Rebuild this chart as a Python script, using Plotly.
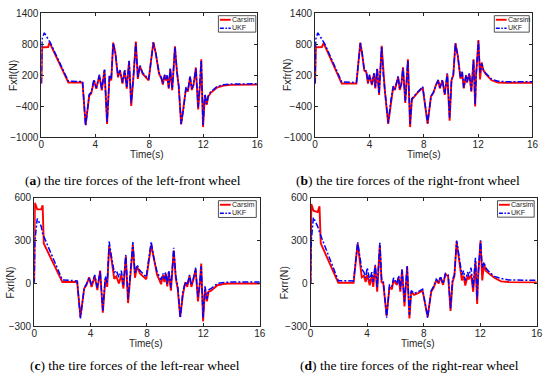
import plotly.graph_objects as go

W, H = 550, 383

# ---------------- data ----------------
T_LEFT = [0, 0.05, 0.22, 0.5, 0.6, 0.68, 2.0, 3.05, 3.28, 3.55,
          3.7, 3.9, 4.07, 4.3, 4.48, 4.68, 4.87, 5.05, 5.18, 5.32,
          5.48, 5.68, 5.83, 6.01, 6.18, 6.33, 6.5, 6.66, 6.83, 7.0,
          7.15, 7.3, 7.5, 7.95, 8.3, 8.47, 8.72, 8.9, 9.0, 9.14,
          9.24, 9.32, 9.44, 9.55, 9.7, 9.9, 10.05, 10.18, 10.36, 10.55,
          10.72, 10.86, 11.02, 11.15, 11.28, 11.45, 11.62, 11.76, 11.85, 11.98,
          12.12, 12.25, 12.37, 12.55, 13.0, 13.5, 14.0, 16.0]

FL_CARSIM = [40, 740, 740, 745, 830, 790, 60, 60, -760, -190,
             -150, 100, -60, 190, -90, 300, -740, 190, 100, 830,
             630, 160, 290, 40, 290, -60, 470, -390, 190, 850,
             130, 380, 230, 100, 840, 630, 230, 130, 20, 200,
             100, 190, -60, 320, -90, 760, 260, -20, -750, -430,
             -50, -115, 165, -85, 10, 350, -460, 10, 510, -800,
             -180, -370, -210, -140, -40, 0, 15, 20]
FL_UKF = [40, 900, 1020, 890, 855, 820, 85, 80, -770, -170,
          -130, 120, -40, 210, -70, 310, -700, 200, 120, 820,
          650, 180, 300, 60, 300, -40, 480, -340, 200, 820,
          150, 390, 250, 120, 830, 650, 250, 150, 40, 210,
          120, 200, -40, 330, -60, 740, 270, 0, -740, -420,
          -30, -95, 180, -65, 30, 330, -420, 30, 480, -760,
          -160, -350, -190, -120, -20, 15, 30, 35]

RL_CARSIM = [10, 564, 519, 520, 548, 280, 10, 10, -234, -35,
             -12, 44, -24, 50, -46, 90, -205, 33, -24, 260,
             170, 33, 50, 0, 60, -35, 190, -137, 60, 270,
             40, 120, 70, 30, 270, 175, 60, 20, -5, 60,
             10, 70, -20, 80, -50, 230, 30, -35, -234, -80,
             10, -24, 55, -24, 20, 100, -125, 10, 140, -265,
             -35, -125, -58, -50, -12, -2, 0, 0]
RL_UKF = [0, 300, 455, 400, 350, 330, 25, 18, -245, -30,
          -5, 40, -10, 60, -30, 85, -190, 50, 0, 293,
          190, 78, 90, 44, 90, -10, 200, -110, 80, 290,
          70, 130, 90, 45, 293, 190, 80, 50, 25, 70,
          30, 78, -5, 90, -30, 250, 50, -15, -240, -58,
          10, -10, 60, -10, 30, 110, -100, 20, 120, -240,
          -20, -110, -45, -35, 0, 8, 10, 10]

T_RIGHT = [0, 0.05, 0.2, 0.5, 0.63, 0.72, 1.96, 3.04, 3.33, 3.45,
           3.62, 3.77, 3.89, 4.01, 4.18, 4.33, 4.43, 4.57, 4.71, 4.9,
           5.02, 5.14, 5.38, 5.58, 5.75, 5.87, 6.11, 6.23, 6.35, 6.47,
           6.64, 6.83, 6.99, 7.12, 7.32, 7.56, 7.92, 8.28, 8.53, 8.7,
           8.89, 9.06, 9.18, 9.37, 9.54, 9.73, 9.9, 10.04, 10.17, 10.33,
           10.5, 10.7, 10.82, 10.94, 11.11, 11.18, 11.35, 11.5, 11.66, 11.78,
           11.85, 12.02, 12.14, 12.26, 12.38, 12.55, 12.99, 13.47, 14.0, 16.0]

FR_CARSIM = [40, 740, 740, 745, 820, 765, 40, 40, 830, 630,
             290, 260, 40, 196, 10, 228, -53, 322, -178, 770,
             196, -115, -738, -300, -22, -84, 166, -84, 30, 353,
             -333, 509, -800, -270, -200, -130, -40, -740, -209, -146,
             10, 103, -53, 103, -178, 228, -675, 103, 196, 820,
             572, 134, 259, -53, 196, 60, 228, -115, 509, -400,
             200, 880, 120, 447, 300, 228, 103, 60, 55, 55]
FR_UKF = [40, 900, 1019, 890, 850, 800, 70, 60, 820, 650,
          300, 280, 60, 210, 30, 240, -30, 330, -150, 760,
          210, -90, -720, -280, -10, -70, 180, -70, 40, 340,
          -300, 490, -740, -250, -190, -120, -20, -720, -200, -130,
          20, 115, -40, 110, -160, 235, -620, 115, 205, 810,
          580, 150, 270, -40, 205, 70, 235, -100, 490, -360,
          210, 860, 250, 430, 310, 245, 125, 85, 75, 75]

RR_CARSIM = [0, 557, 510, 500, 541, 281, 5, 5, 280, 180,
             44, 55, 10, 60, -12, 55, -24, 123, -58, 270,
             10, 0, -227, -24, -40, 22, -10, 44, -58, 96,
             -160, 120, -245, -58, -80, -70, -50, -234, -58, -30,
             22, 0, 44, -10, 66, 50, -193, 10, 50, 293,
             180, 22, 55, -15, 50, 30, 60, -58, 157, -144,
             50, 297, 22, 141, 90, 75, 40, 15, 10, 8]
RR_UKF = [0, 300, 462, 400, 360, 335, 20, 18, 290, 195,
          100, 80, 40, 110, 20, 80, 10, 130, -30, 285,
          30, 20, -240, -10, -20, 40, 0, 55, -40, 100,
          -130, 120, -220, -50, -70, -60, -40, -240, -50, -20,
          30, 10, 50, 0, 70, 60, -175, 30, 60, 300,
          190, 60, 90, 20, 80, 50, 110, -30, 180, -110,
          60, 303, 110, 150, 110, 90, 50, 35, 25, 22]

X_TICKS = [0, 4, 8, 12, 16]
FRONT_Y_TICKS = [-1000, -400, 200, 800, 1400]
REAR_Y_TICKS = [-300, 0, 300, 600]
SERIES_NAMES = ["Carsim", "UKF"]
Y_TITLES = ["Fxfl(N)", "Fxfr(N)", "Fxrl(N)", "Fxrr(N)"]
X_TITLE = "Time(s)"
CAPTION_LETTERS = ["a", "b", "c", "d"]
CAPTION_TEXTS = ["the tire forces of the left-front wheel",
                 "the tire forces of the right-front wheel",
                 "the tire forces of the left-rear wheel",
                 "the tire forces of the right-rear wheel"]

for name, arr, t in [("FL_CARSIM", FL_CARSIM, T_LEFT), ("FL_UKF", FL_UKF, T_LEFT),
                     ("RL_CARSIM", RL_CARSIM, T_LEFT), ("RL_UKF", RL_UKF, T_LEFT),
                     ("FR_CARSIM", FR_CARSIM, T_RIGHT), ("FR_UKF", FR_UKF, T_RIGHT),
                     ("RR_CARSIM", RR_CARSIM, T_RIGHT), ("RR_UKF", RR_UKF, T_RIGHT)]:
    assert len(arr) == len(t), (name, len(arr), len(t))

# ---------------- layout (pixel geometry) ----------------
panels = [
    dict(t=T_LEFT, c=FL_CARSIM, u=FL_UKF, yt=FRONT_Y_TICKS, box=(39, 7.3, 258.5, 135.7),
         ytitle=(9.5, 71), xtitle=(146, 153.5), cap=(132, 180), leg=(219, 10, 257, 27)),
    dict(t=T_RIGHT, c=FR_CARSIM, u=FR_UKF, yt=FRONT_Y_TICKS, box=(317.3, 7.3, 538.3, 135.7),
         ytitle=(288, 71), xtitle=(428, 153.5), cap=(412, 180), leg=(499.5, 10, 535, 27)),
    dict(t=T_LEFT, c=RL_CARSIM, u=RL_UKF, yt=REAR_Y_TICKS, box=(31.7, 198, 261, 330.7),
         ytitle=(7.5, 285), xtitle=(145, 348.5), cap=(134.5, 371.5), leg=(219, 201, 257.5, 218.3)),
    dict(t=T_RIGHT, c=RR_CARSIM, u=RR_UKF, yt=REAR_Y_TICKS, box=(312.7, 198, 542.7, 330.7),
         ytitle=(286, 286), xtitle=(422, 348.5), cap=(413.5, 371.5), leg=(502.7, 201, 540, 218)),
]

def px(x):
    return x / W

def py(y):
    return 1 - y / H

AXIS_COLOR = "#262626"
RED = "#FF0000"
BLUE = "#0000FF"

fig = go.Figure()
layout = dict(
    width=W, height=H, margin=dict(l=0, r=0, t=0, b=0),
    paper_bgcolor="white", plot_bgcolor="white", showlegend=False,
    font=dict(family="Liberation Sans, Arial, sans-serif", size=10, color=AXIS_COLOR),
)
annotations = []
shapes = []

for i, p in enumerate(panels):
    n = "" if i == 0 else str(i + 1)
    xa, ya = "x" + n, "y" + n
    x0, y0, x1, y1 = p["box"]
    fig.add_trace(go.Scatter(x=p["t"], y=p["c"], xaxis=xa, yaxis=ya, mode="lines",
                             name=SERIES_NAMES[0], line=dict(color=RED, width=1.9)))
    fig.add_trace(go.Scatter(x=p["t"], y=p["u"], xaxis=xa, yaxis=ya, mode="lines",
                             name=SERIES_NAMES[1],
                             line=dict(color=BLUE, width=1.5, dash="6px,2px,2px,2px")))
    common = dict(showline=True, linecolor=AXIS_COLOR, linewidth=1, mirror="ticks",
                  ticks="inside", ticklen=3, tickcolor=AXIS_COLOR, showgrid=False,
                  zeroline=False, tickfont=dict(size=10, color=AXIS_COLOR))
    layout["xaxis" + n] = dict(domain=[px(x0), px(x1)], anchor=ya, range=[0, 16],
                               tickvals=X_TICKS, ticklabelstandoff=-2, **common)
    layout["yaxis" + n] = dict(domain=[py(y1), py(y0)], anchor=xa,
                               range=[p["yt"][0], p["yt"][-1]], tickvals=p["yt"], **common)
    # axis titles
    annotations.append(dict(text=Y_TITLES[i], x=px(p["ytitle"][0]), y=py(p["ytitle"][1]),
                            xref="paper", yref="paper", showarrow=False, textangle=-90,
                            xanchor="center", yanchor="middle",
                            font=dict(size=10.5, color=AXIS_COLOR)))
    annotations.append(dict(text=X_TITLE, x=px(p["xtitle"][0]), y=py(p["xtitle"][1]),
                            xref="paper", yref="paper", showarrow=False,
                            xanchor="center", yanchor="middle",
                            font=dict(size=10, color=AXIS_COLOR)))
    # caption
    annotations.append(dict(text="(<b>%s</b>) %s" % (CAPTION_LETTERS[i], CAPTION_TEXTS[i]),
                            x=px(p["cap"][0]), y=py(p["cap"][1]),
                            xref="paper", yref="paper", showarrow=False,
                            xanchor="center", yanchor="middle",
                            font=dict(family="Liberation Serif, serif", size=13.5, color="black")))
    # legend box
    lx0, ly0, lx1, ly1 = p["leg"]
    shapes.append(dict(type="rect", xref="paper", yref="paper", x0=px(lx0), x1=px(lx1),
                       y0=py(ly1), y1=py(ly0), line=dict(color=AXIS_COLOR, width=0.8),
                       fillcolor="white", layer="above"))
    rows = [ly0 + 4.2, ly0 + 12.9]
    styles = [dict(color=RED, width=1.9), dict(color=BLUE, width=1.5, dash="4px,1.5px,1.5px,1.5px")]
    for r, (yy, st) in enumerate(zip(rows, styles)):
        shapes.append(dict(type="line", xref="paper", yref="paper", x0=px(lx0 + 1.5),
                           x1=px(lx0 + 12.5), y0=py(yy), y1=py(yy), line=st, layer="above"))
        annotations.append(dict(text=SERIES_NAMES[r], x=px(lx0 + 12.8), y=py(yy),
                                xref="paper", yref="paper", showarrow=False,
                                xanchor="left", yanchor="middle", borderpad=0,
                                font=dict(size=7.1, color=AXIS_COLOR)))

layout["annotations"] = annotations
layout["shapes"] = shapes
fig.update_layout(**layout)
fig.write_html("out.html", config={"displayModeBar": False},
               post_script="document.body.style.margin='0px';document.body.style.padding='0px';"
                           "document.body.style.overflow='hidden';")
